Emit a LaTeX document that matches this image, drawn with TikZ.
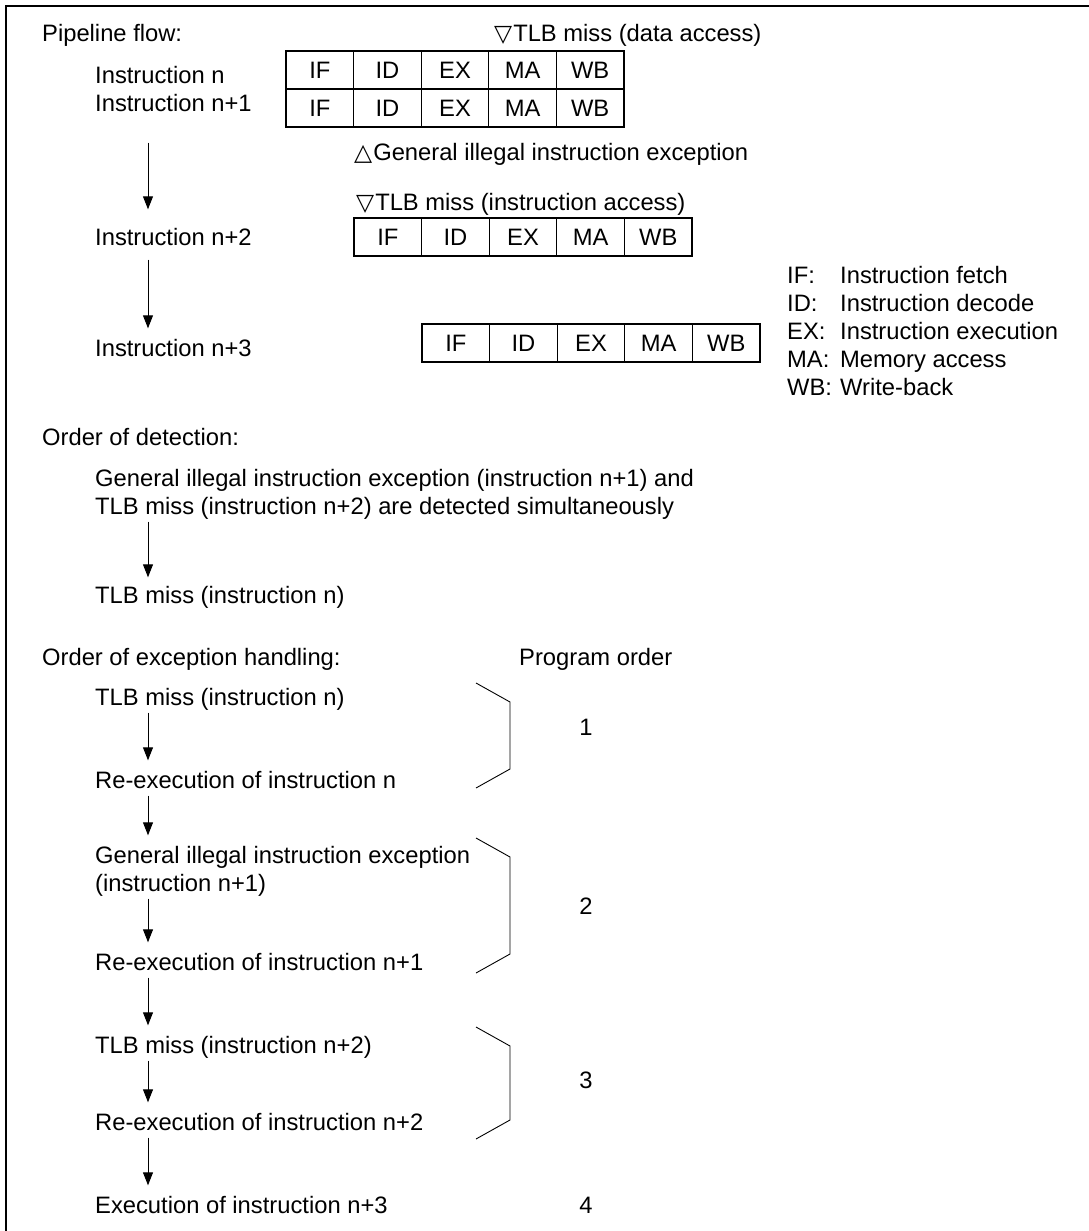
\documentclass[tikz,border=0pt]{standalone}
\usepackage{fontspec}
\setmainfont{Liberation Sans}
\newfontfamily\trifont{DejaVu Sans}
\usetikzlibrary{arrows.meta, positioning}
\newcommand{\figfont}{\fontsize{23.75pt}{28pt}\selectfont}
\newcommand{\tri}[1]{{\trifont\fontsize{23.5pt}{28pt}\selectfont #1}\kern1pt}

\begin{document}
\begin{tikzpicture}[
    x=1pt, y=-1pt,
    txt/.style={anchor=west, inner sep=0pt, text height=17pt, text depth=0pt, font=\figfont},
    stage/.style={rectangle, draw, line width=1.2pt, minimum width=67.6pt, minimum height=38pt, inner sep=0pt, outer sep=0pt, text height=17pt, text depth=0pt, font=\figfont},
    num/.style={inner sep=0pt, text height=17pt, text depth=0pt, font=\figfont},
    flow/.style={-{Triangle[length=13pt, width=10pt]}, line width=0.9pt},
    flowdn/.style={flow, shorten <=7pt, shorten >=11pt},
    brk/.style={line width=0.9pt}
]
\useasboundingbox (0,0) rectangle (1089,1231);
\draw[line width=2.5pt] (6,1231) -- (6,6) -- (1089,6);

% pipeline flow
\node[txt] (pf) at (42,33) {Pipeline flow:};
\node[txt] (tlbd) at (494,33) {\tri{▽}TLB miss (data access)};
\node[txt] (in1) at (95,75) {Instruction n};
\node[txt] (in2) at (95,103) {Instruction n+1};
\node[txt] (in3) at (95,237) {Instruction n+2};
\node[txt] (in4) at (95,348) {Instruction n+3};
\node[txt] (gie) at (354,152) {\tri{△}General illegal instruction exception};
\node[txt] (tlbi) at (356,202) {\tri{▽}TLB miss (instruction access)};

\foreach \r/\x/\y in {a/286/70, b/286/108, c/354/237, d/422/343}
  \foreach \s [count=\i] in {IF,ID,EX,MA,WB}
    \node[stage] (\r\i) at (\x+67.6*\i-33.8,\y) {\s};

\draw[flow, shorten <=31pt, shorten >=19pt] ([xshift=53pt]in2.south west) -- ([xshift=53pt]in3.north west);
\draw[flow, shorten <=14pt, shorten >=11pt] ([xshift=53pt]in3.south west) -- ([xshift=53pt]in4.north west);

% legend
\foreach \k/\d [count=\i] in {IF:/Instruction fetch, ID:/Instruction decode, EX:/Instruction execution, MA:/Memory access, WB:/Write-back} {
  \node[txt] (k\i) at (787,247+28*\i) {\k};
  \node[txt] (l\i) at (840,247+28*\i) {\d};
}

% order of detection
\node[txt] (od) at (42,437) {Order of detection:};
\node[txt] (d1) at (95,478) {General illegal instruction exception (instruction n+1) and};
\node[txt] (d2) at (95,506) {TLB miss (instruction n+2) are detected simultaneously};
\node[txt] (d3) at (95,595) {TLB miss (instruction n)};
\draw[flow, shorten <=7pt, shorten >=9pt] ([xshift=53pt]d2.south west) -- ([xshift=53pt]d3.north west);

% order of exception handling
\node[txt] (oh) at (42,657) {Order of exception handling:};
\node[txt] (po) at (519,657) {Program order};
\node[txt] (h1) at (95,697) {TLB miss (instruction n)};
\node[txt] (h2) at (95,780) {Re-execution of instruction n};
\node[txt] (h3) at (95,855) {General illegal instruction exception};
\node[txt] (h3b) at (95,883) {(instruction n+1)};
\node[txt] (h4) at (95,962) {Re-execution of instruction n+1};
\node[txt] (h5) at (95,1045) {TLB miss (instruction n+2)};
\node[txt] (h6) at (95,1122) {Re-execution of instruction n+2};
\node[txt] (h7) at (95,1205) {Execution of instruction n+3};

\foreach \u/\v in {h1/h2, h2/h3, h3b/h4, h4/h5, h5/h6, h6/h7}
  \draw[flowdn] ([xshift=53pt]\u.south west) -- ([xshift=53pt]\v.north west);

\foreach \t/\b in {683/788, 838/973, 1027/1139}
  \draw[brk] (476,\t) -- (510,\t+19) -- (510,\b-19) -- (476,\b);

\node[num] (p1) at (586,727) {1};
\node[num] (p2) at (586,906) {2};
\node[num] (p3) at (586,1080) {3};
\node[num] (p4) at (586,1205) {4};
\end{tikzpicture}
\end{document}
